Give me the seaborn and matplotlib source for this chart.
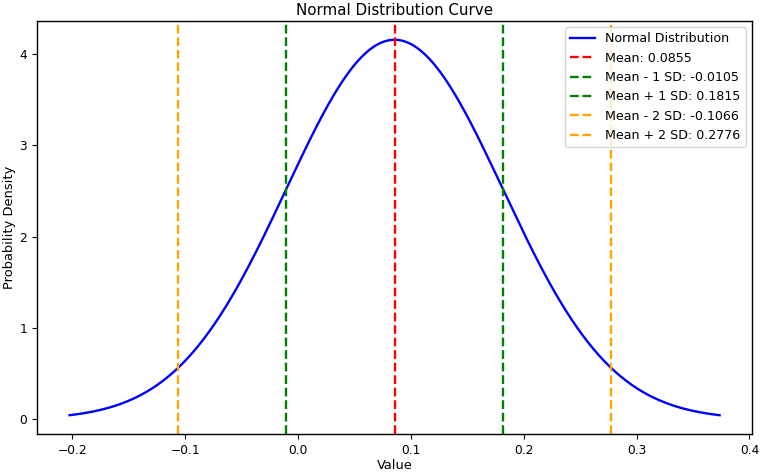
import numpy as np
import pandas as pd
import matplotlib
matplotlib.use("Agg")
import matplotlib.pyplot as plt
import seaborn as sns

mean = 0.0855
sd = 0.0960
line_labels = ["Mean: 0.0855", "Mean - 1 SD: -0.0105", "Mean + 1 SD: 0.1815",
               "Mean - 2 SD: -0.1066", "Mean + 2 SD: 0.2776"]
line_values = [0.0855, -0.0105, 0.1815, -0.1066, 0.2776]
line_colors = ["red", "green", "green", "orange", "orange"]

x = np.linspace(mean - 3 * sd, mean + 3 * sd, 1000)
y = np.exp(-0.5 * ((x - mean) / sd) ** 2) / (sd * np.sqrt(2 * np.pi))
df = pd.DataFrame({"Value": x, "Probability Density": y})

fig = plt.figure(figsize=(7.62, 4.73), dpi=100)
ax = fig.add_axes([0.0486, 0.0825, 0.9384, 0.8731])
sns.lineplot(data=df, x="Value", y="Probability Density", color="blue",
             linewidth=1.7, label="Normal Distribution", ax=ax)
for v, lab, c in zip(line_values, line_labels, line_colors):
    ax.axvline(v, color=c, linestyle="--", linewidth=1.7, label=lab)

ax.set_title("Normal Distribution Curve", fontsize=10.9, pad=4)
ax.set_xlabel("Value", fontsize=9.4, labelpad=1.5)
ax.set_ylabel("Probability Density", fontsize=9.4, labelpad=2.5)
ax.tick_params(labelsize=8.8)
for s in ax.spines.values():
    s.set_linewidth(1.0)
ax.legend(loc="upper right", fontsize=9.1)
fig.savefig("out.png", dpi=100)
